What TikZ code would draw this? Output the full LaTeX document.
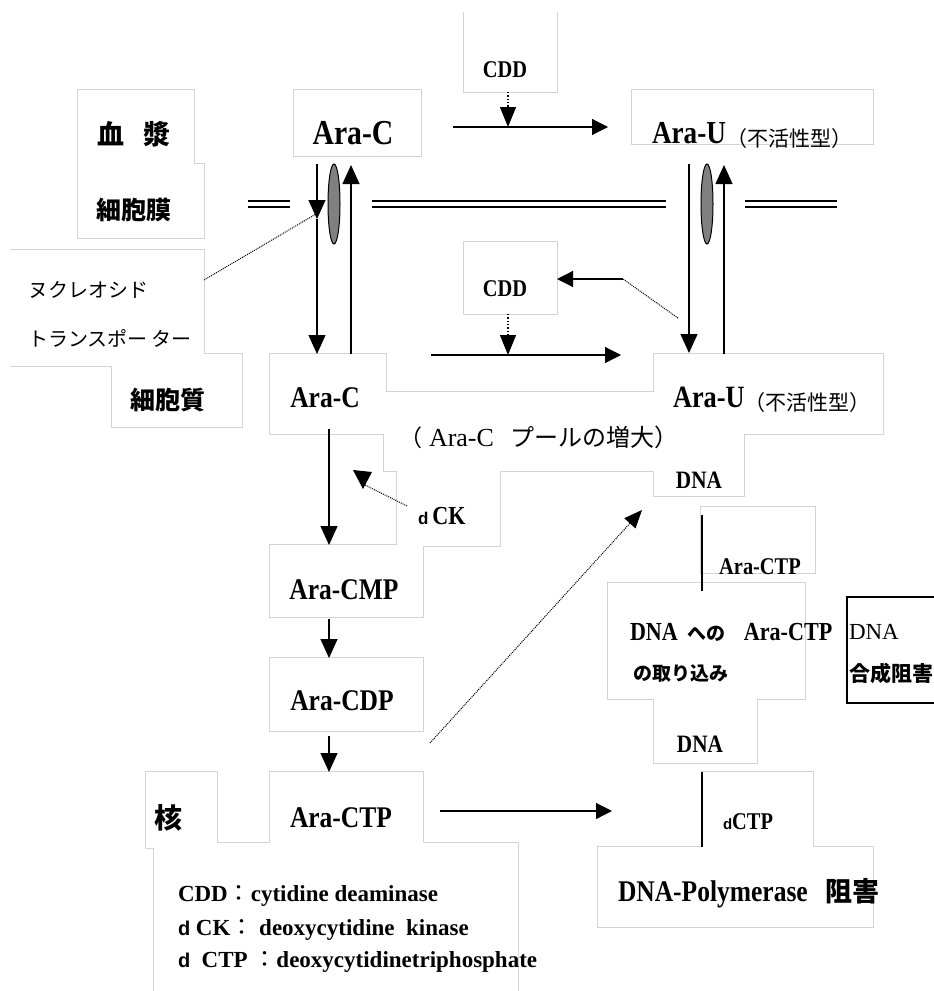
\documentclass[tikz,border=0pt]{standalone}
\usepackage{fontspec}
\usetikzlibrary{arrows.meta}
\setmainfont{Liberation Serif}
\newfontfamily\cs{Liberation Serif}[FakeStretch=0.85]
\newfontfamily\jp{Noto Sans CJK JP}
\newfontfamily\sfb{Liberation Sans}
\newcommand{\jpb}{\jp\bfseries}
\newcommand{\jpr}{\jp\mdseries}
\definecolor{boxgray}{RGB}{212,212,212}
\definecolor{memgray}{RGB}{128,128,128}
\newcommand{\fs}[1]{\fontsize{#1}{#1}\selectfont}
\begin{document}
\begin{tikzpicture}[x=1pt,y=-1pt,
  bx/.style={draw=boxgray,line width=2pt},
  arr/.style={line width=1.2pt,-{Triangle[length=19pt,width=17pt]}},
  harr/.style={line width=1.2pt,-{Triangle[length=16pt,width=16pt]}},
  dotarr/.style={line width=1.3pt,dotted,-{Triangle[length=20pt,width=16pt]}},
  pointer/.style={line width=1pt,densely dotted},
  plain/.style={line width=1.2pt},
  txt/.style={inner sep=0pt,outer sep=0pt},
  mem/.style={line width=1.2pt},
]
\clip (0,0) rectangle (934,991);
\fill[white] (0,0) rectangle (934,991);
% ---------- box outlines (union look) ----------
\foreach \xa/\ya/\xb/\yb in {78/90/194/200, 78/164/204/238, 112/354/242/427,
  294/90/421/156, 632/90/873/144, 464/242/557/314, 270/354/386/434,
  384/392/660/471, 654/354/883/434, 654/430/744/496, 397/440/500/546,
  270/545/423/617, 270/658/423/731, 270/772/423/848, 146/772/217/848,
  154/843/518/1010, 701/507/815/573, 608/583/805/699, 654/690/757/763,
  702/772/813/850, 598/847/873/927}
  \draw[bx] (\xa,\ya) rectangle (\xb,\yb);
\draw[bx] (10,250) -- (204,250) -- (204,366) -- (10,366);
\draw[bx] (464,12) -- (464,92) -- (557,92) -- (557,12);
\foreach \xa/\ya/\xb/\yb in {78/90/194/200, 78/164/204/238, 112/354/242/427,
  294/90/421/156, 632/90/873/144, 464/242/557/314, 270/354/386/434,
  384/392/660/471, 654/354/883/434, 654/430/744/496, 397/440/500/546,
  270/545/423/617, 270/658/423/731, 270/772/423/848, 146/772/217/848,
  154/843/518/1010, 701/507/815/573, 608/583/805/699, 654/690/757/763,
  702/772/813/850, 598/847/873/927, 10/250/204/366, 464/0/557/92}
  \fill[white] (\xa,\ya) rectangle (\xb,\yb);
% ---------- membrane ----------
\foreach \xa/\xb in {248/290, 372/666, 745/837} {
  \draw[mem] (\xa,201) -- (\xb,201);
  \draw[mem] (\xa,207) -- (\xb,207);
}
\draw[fill=memgray,line width=1pt] (334,204) ellipse (6 and 40);
\draw[fill=memgray,line width=1pt] (707,204) ellipse (6 and 40);
% ---------- coordinates ----------
\coordinate (lTop) at (317,164);
\coordinate (lMid) at (317,219);
\coordinate (lBot) at (317,354);
\coordinate (luBot) at (351,354);
\coordinate (luTop) at (351,165);
\coordinate (rTop) at (689,164);
\coordinate (rBot) at (689,353);
\coordinate (ruBot) at (724,354);
\coordinate (ruTop) at (724,165);
\coordinate (h1s) at (453,127);
\coordinate (h1e) at (608,127);
\coordinate (c1s) at (508,92);
\coordinate (c1e) at (508,127);
\coordinate (h2s) at (431,355);
\coordinate (h2e) at (621,355);
\coordinate (c2s) at (508,314);
\coordinate (c2e) at (508,355);
\coordinate (bk1) at (678,318);
\coordinate (bk2) at (623,279);
\coordinate (bk3) at (557,279);
\coordinate (trs) at (204,280);
\coordinate (tre) at (316,214);
\coordinate (dks) at (407,506);
\coordinate (dke) at (365,485);
\coordinate (v1s) at (329,429);
\coordinate (v1e) at (329,545);
\coordinate (v2s) at (329,619);
\coordinate (v2e) at (329,658);
\coordinate (v3s) at (329,736);
\coordinate (v3e) at (329,772);
\coordinate (dgs) at (430,743);
\coordinate (dge) at (642,510);
\coordinate (h3s) at (440,811);
\coordinate (h3e) at (612,811);
\coordinate (k1s) at (702,515);
\coordinate (k1e) at (702,591);
\coordinate (k2s) at (702,772);
\coordinate (k2e) at (702,847);
% ---------- connectors ----------
\draw[arr] (lTop) -- (lMid);
\draw[arr] (lMid) -- (lBot);
\draw[arr] (luBot) -- (luTop);
\draw[arr] (rTop) -- (rBot);
\draw[arr] (ruBot) -- (ruTop);
\draw[harr] (h1s) -- (h1e);
\draw[dotarr] (c1s) -- (c1e);
\draw[harr] (h2s) -- (h2e);
\draw[dotarr] (c2s) -- (c2e);
\draw[pointer] (bk1) -- (bk2);
\draw[harr] (bk2) -- (bk3);
\draw[pointer] (trs) -- (tre);
\draw[pointer] (dks) -- (dke);
\fill (353,470) -- (372,472) -- (363,489) -- cycle;
\draw[arr] (v1s) -- (v1e);
\draw[arr] (v2s) -- (v2e);
\draw[arr] (v3s) -- (v3e);
\draw[pointer,-{Triangle[length=18pt,width=15pt]}] (dgs) -- (dge);
\draw[harr] (h3s) -- (h3e);
\draw[plain] (k1s) -- (k1e);
\draw[plain] (k2s) -- (k2e);
\draw[plain] (940,597) -- (847,597) -- (847,703) -- (940,703);
% ---------- texts ----------
\node[txt] (kessho) at (134,134) {\jpb\fs{27}血\hspace{20pt}漿};
\node[txt] (maku) at (134,210) {\jpb\fs{25}細胞膜};
\node[txt,anchor=west] (nuc1) at (28,290) {\jpr\fs{20}ヌクレオシド};
\node[txt,anchor=west] (nuc2) at (28,338) {\jpr\fs{20}トランスポー\hspace{4pt}ター};
\node[txt] (saibo) at (168,400) {\jpb\fs{25}細胞質};
\node[txt] (kaku) at (168,818) {\jpb\fs{28}核};
\node[txt] (araC1) at (353,133) {\cs\bfseries\fs{35}Ara-C};
\node[txt] (cdd1) at (505,70) {\cs\bfseries\fs{24}CDD};
\node[txt,anchor=base west] (araU1) at (652,143) {\cs\bfseries\fs{32}Ara-U\raisebox{-3pt}{\jpr\fs{21}（不活性型）}};
\node[txt] (cdd2) at (505,289) {\cs\bfseries\fs{24}CDD};
\node[txt] (araC2) at (325,398) {\cs\bfseries\fs{30}Ara-C};
\node[txt,anchor=base west] (araU2) at (673,407) {\cs\bfseries\fs{31}Ara-U\raisebox{-3pt}{\jpr\fs{21}（不活性型）}};
\node[txt,anchor=west] (pool) at (399,437) {\jpr\fs{23}（\hspace{7pt}{\rmfamily\fs{26}Ara-C}\hspace{17pt}{\fs{24}プールの増大）}};
\node[txt] (dnaU) at (699,480) {\cs\bfseries\fs{25}DNA};
\node[txt,anchor=west] (dck) at (418,516) {\sfb\bfseries\fs{17}d\hspace{4pt}\cs\fs{26}CK};
\node[txt] (cmp) at (344,590) {\cs\bfseries\fs{30}Ara-CMP};
\node[txt] (cdp) at (342,701) {\cs\bfseries\fs{30}Ara-CDP};
\node[txt] (ctp) at (341,818) {\cs\bfseries\fs{30}Ara-CTP};
\node[txt,anchor=west] (leg1) at (178,896) {\bfseries\fs{23}CDD{\jpr：}cytidine deaminase};
\node[txt,anchor=west] (leg2) at (178,930) {\bfseries\fs{23}{\sfb\fs{20}d} CK{\jpr：} deoxycytidine\ \ kinase};
\node[txt,anchor=west] (leg3) at (178,962) {\bfseries\fs{23}{\sfb\fs{20}d}\ \ CTP {\jpr：}deoxycytidinetriphosphate};
\node[txt] (actpS) at (760,567) {\cs\bfseries\fs{24}Ara-CTP};
\node[txt,anchor=west] (inc1) at (630,632) {\cs\bfseries\fs{26}DNA\hspace{10pt}{\jpb\fs{19}への}\hspace{18pt}Ara-CTP};
\node[txt,anchor=west] (inc2) at (633,673) {\jpb\fs{19}の取り込み};
\node[txt] (dnaL) at (700,744) {\cs\bfseries\fs{25}DNA};
\node[txt,anchor=west] (dctp) at (723,822) {\sfb\bfseries\fs{15}d\cs\fs{24}CTP};
\node[txt,anchor=west] (pol) at (618,893) {\cs\bfseries\fs{30}DNA-Polymerase\hspace{18pt}{\jpb\fs{27}阻害}};
\node[txt,anchor=west] (gos1) at (849,632) {\fs{23}DNA};
\node[txt,anchor=west] (gos2) at (849,673) {\jpb\fs{21}合成阻害};
\end{tikzpicture}
\end{document}
